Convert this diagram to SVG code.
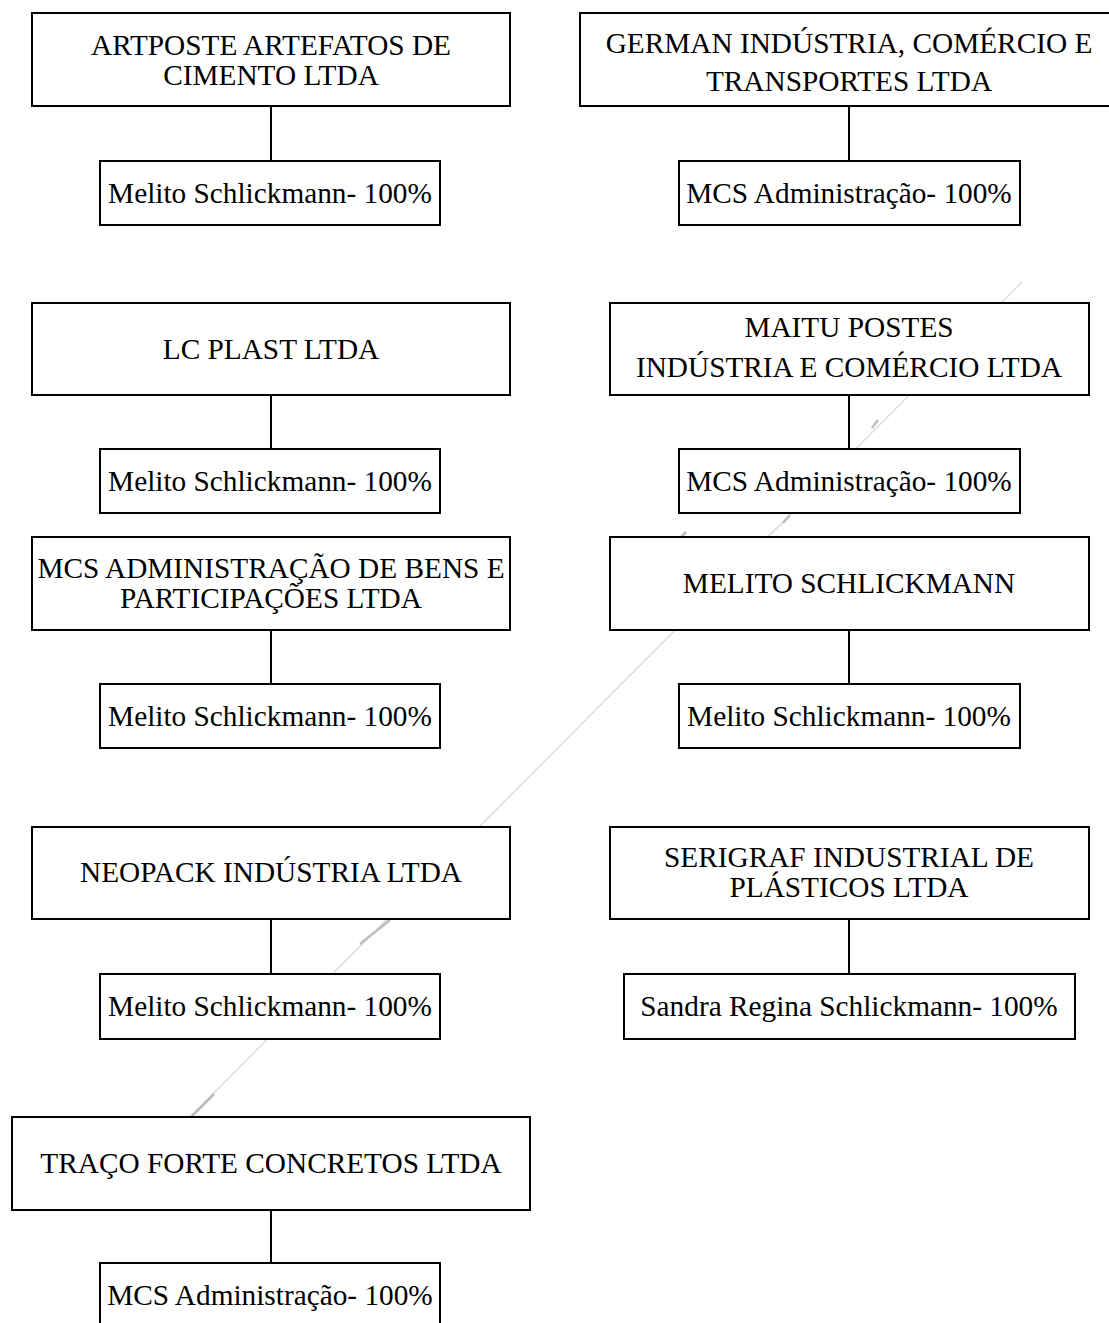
<svg xmlns="http://www.w3.org/2000/svg" width="1109" height="1323" viewBox="0 0 1109 1323">
<style>
.box{fill:#fff;stroke:#000;stroke-width:2}
.t{font-family:"Liberation Serif","Times New Roman",serif;font-size:29.3px;fill:#000;text-anchor:middle}
.c{stroke:#000;stroke-width:2;fill:none}
.scan{stroke:#d4d4d4;stroke-width:1.2;fill:none}
.scan2{stroke:#bdbdbd;stroke-width:2.5;fill:none}
</style>
<rect width="1109" height="1323" fill="#fff"/>
<g id="scan-artifact">
<line class="scan" x1="1022" y1="282" x2="189" y2="1118"/>
<line class="scan2" x1="878" y1="420" x2="872" y2="428"/>
<line class="scan2" x1="790" y1="515" x2="783" y2="523"/>
<line class="scan2" x1="686" y1="532" x2="666" y2="552"/>
<line class="scan2" x1="390" y1="920" x2="360" y2="944"/>
<line class="scan2" x1="214" y1="1094" x2="191" y2="1117"/>
</g>
<g id="connectors">
<line class="c" x1="271" y1="106" x2="271" y2="161"/>
<line class="c" x1="849" y1="106" x2="849" y2="161"/>
<line class="c" x1="271" y1="395" x2="271" y2="449"/>
<line class="c" x1="849" y1="395" x2="849" y2="449"/>
<line class="c" x1="271" y1="630" x2="271" y2="684"/>
<line class="c" x1="849" y1="630" x2="849" y2="684"/>
<line class="c" x1="271" y1="919" x2="271" y2="974"/>
<line class="c" x1="849" y1="919" x2="849" y2="974"/>
<line class="c" x1="271" y1="1210" x2="271" y2="1263"/>
</g>
<g id="artposte">
<rect class="box" x="32" y="13" width="478" height="93"/>
<text class="t" x="271" y="55">ARTPOSTE ARTEFATOS DE</text>
<text class="t" x="271" y="85">CIMENTO LTDA</text>
</g>
<g id="artposte-owner">
<rect class="box" x="100" y="161" width="340" height="64"/>
<text class="t" x="270" y="203">Melito Schlickmann- 100%</text>
</g>
<g id="german">
<rect class="box" x="580" y="13" width="540" height="93"/>
<text class="t" x="849" y="53">GERMAN INDÚSTRIA, COMÉRCIO E</text>
<text class="t" x="849" y="91">TRANSPORTES LTDA</text>
</g>
<g id="german-owner">
<rect class="box" x="679" y="161" width="341" height="64"/>
<text class="t" x="849" y="203">MCS Administração- 100%</text>
</g>
<g id="lcplast">
<rect class="box" x="32" y="303" width="478" height="92"/>
<text class="t" x="271" y="359">LC PLAST LTDA</text>
</g>
<g id="lcplast-owner">
<rect class="box" x="100" y="449" width="340" height="64"/>
<text class="t" x="270" y="491">Melito Schlickmann- 100%</text>
</g>
<g id="maitu">
<rect class="box" x="610" y="303" width="479" height="92"/>
<text class="t" x="849" y="337">MAITU POSTES</text>
<text class="t" x="849" y="377">INDÚSTRIA E COMÉRCIO LTDA</text>
</g>
<g id="maitu-owner">
<rect class="box" x="679" y="449" width="341" height="64"/>
<text class="t" x="849" y="491">MCS Administração- 100%</text>
</g>
<g id="mcs">
<rect class="box" x="32" y="537" width="478" height="93"/>
<text class="t" x="271" y="578">MCS ADMINISTRAÇÃO DE BENS E</text>
<text class="t" x="271" y="608">PARTICIPAÇÕES LTDA</text>
</g>
<g id="mcs-owner">
<rect class="box" x="100" y="684" width="340" height="64"/>
<text class="t" x="270" y="726">Melito Schlickmann- 100%</text>
</g>
<g id="melito">
<rect class="box" x="610" y="537" width="479" height="93"/>
<text class="t" x="849" y="593">MELITO SCHLICKMANN</text>
</g>
<g id="melito-owner">
<rect class="box" x="679" y="684" width="341" height="64"/>
<text class="t" x="849" y="726">Melito Schlickmann- 100%</text>
</g>
<g id="neopack">
<rect class="box" x="32" y="827" width="478" height="92"/>
<text class="t" x="271" y="882">NEOPACK INDÚSTRIA LTDA</text>
</g>
<g id="neopack-owner">
<rect class="box" x="100" y="974" width="340" height="65"/>
<text class="t" x="270" y="1016">Melito Schlickmann- 100%</text>
</g>
<g id="serigraf">
<rect class="box" x="610" y="827" width="479" height="92"/>
<text class="t" x="849" y="867">SERIGRAF INDUSTRIAL DE</text>
<text class="t" x="849" y="897">PLÁSTICOS LTDA</text>
</g>
<g id="serigraf-owner">
<rect class="box" x="624" y="974" width="451" height="65"/>
<text class="t" x="849" y="1016">Sandra Regina Schlickmann- 100%</text>
</g>
<g id="tracoforte">
<rect class="box" x="12" y="1117" width="518" height="93"/>
<text class="t" x="271" y="1173">TRAÇO FORTE CONCRETOS LTDA</text>
</g>
<g id="tracoforte-owner">
<rect class="box" x="100" y="1263" width="340" height="70"/>
<text class="t" x="270" y="1305">MCS Administração- 100%</text>
</g>
</svg>
